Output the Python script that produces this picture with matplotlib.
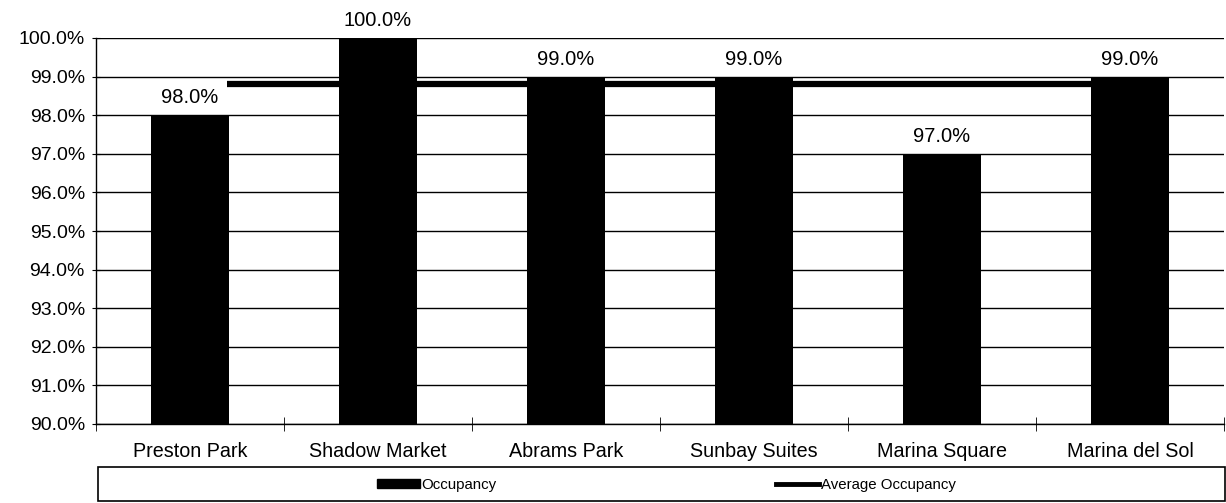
"""Occupancy by property, bar chart with an average line."""

import matplotlib.pyplot as plt
from matplotlib.lines import Line2D
from matplotlib.patches import Patch, Rectangle

properties = ["Preston Park", "Shadow Market", "Abrams Park",
              "Sunbay Suites", "Marina Square", "Marina del Sol"]
occupancy = [98.0, 100.0, 99.0, 99.0, 97.0, 99.0]
average_occupancy = 98.8
y_ticks = [90, 91, 92, 93, 94, 95, 96, 97, 98, 99, 100]

plt.rcParams["font.family"] = ["Liberation Sans", "DejaVu Sans"]

W, H = 1226, 503
fig = plt.figure(figsize=(W / 100, H / 100), dpi=100, facecolor="white")
ax = fig.add_axes([96 / W, 1 - 424 / H, (1224 - 96) / W, (424 - 38) / H])

x = list(range(len(properties)))
bar_w = 0.41

# horizontal gridlines behind everything
for t in y_ticks:
    ax.axhline(t, color="black", linewidth=1.0, zorder=0)

# average line runs behind the bars
ax.hlines(average_occupancy, bar_w / 2 - 0.01, x[-1], color="black",
          linewidth=4.5, zorder=1)

bars = ax.bar(x, [v - 90 for v in occupancy], bottom=90, width=bar_w,
              color="black", zorder=2)

for xi, v in zip(x, occupancy):
    ax.text(xi, v + 0.2, f"{v:.1f}%", ha="center", va="bottom",
            fontsize=14.5, clip_on=False)

ax.set_xlim(-0.5, len(properties) - 0.5)
ax.set_ylim(90, 100)
ax.set_yticks(y_ticks)
ax.set_yticklabels([f"{t:.1f}%" for t in y_ticks], fontsize=14)
ax.set_xticks(x)
ax.set_xticklabels(properties, fontsize=14.2)
ax.tick_params(axis="x", length=0, pad=13)
ax.tick_params(axis="y", length=6, direction="inout", pad=5)

# category boundary ticks on the x axis
ax.set_xticks([i - 0.5 for i in range(len(properties) + 1)], minor=True)
ax.tick_params(axis="x", which="minor", length=10, direction="inout")

for side in ["top", "right"]:
    ax.spines[side].set_visible(False)
ax.spines["left"].set_linewidth(1.0)
ax.spines["bottom"].set_linewidth(1.0)

# legend frame and entries
fig.patches.append(Rectangle((98 / W, 2 / H), (1226 - 99) / W, 34 / H,
                             transform=fig.transFigure, fill=False,
                             edgecolor="black", linewidth=1.2))
handles = [Patch(facecolor="black", edgecolor="black"),
           Line2D([0], [0], color="black", linewidth=3.5)]
fig.legend(handles, ["Occupancy", "Average Occupancy"], loc="center",
           bbox_to_anchor=(666 / W, 1 - 485 / H), ncol=2, frameon=False,
           fontsize=10.8, handlelength=2.9, handleheight=0.5,
           handletextpad=0.1, columnspacing=18.6)

fig.savefig("out.png", dpi=100, facecolor="white")
